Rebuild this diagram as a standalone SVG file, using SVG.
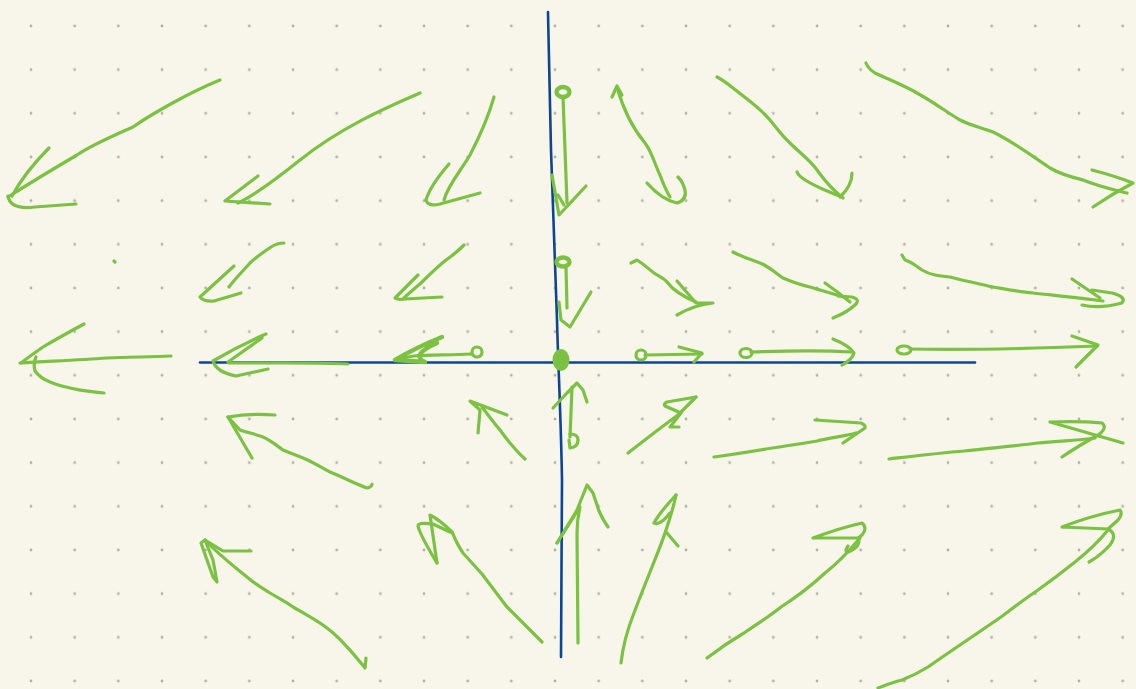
<svg xmlns="http://www.w3.org/2000/svg" width="1136" height="689" viewBox="0 0 1136 689">
<style>
.g{fill:none;stroke:#7cc242;stroke-width:3.2;stroke-linecap:round;stroke-linejoin:round}
.gt{fill:none;stroke:#7cc242;stroke-width:4.4;stroke-linecap:round;stroke-linejoin:round}
.ax{fill:none;stroke:#0c4595;stroke-width:2.6;stroke-linecap:round;stroke-linejoin:round}
</style>
<defs>
<pattern id="dots" patternUnits="userSpaceOnUse" x="9.17" y="4.17" width="43.667" height="43.667">
<circle cx="21.83" cy="21.83" r="1.4" fill="#b3b0a8"/>
</pattern>
</defs>
<rect width="1136" height="689" fill="#f8f6ea"/>
<rect width="1136" height="689" fill="url(#dots)"/>
<g id="axes">
<path class="ax" d="M548,12 C549,60 550,110 551,150 C553,200 555,250 557,320 C558,360 561,420 562,480 C562,560 561,610 561,657"/>
<path class="ax" d="M200,362.5 L975,362.5"/>
</g>
<g id="arrows">
<!-- row 1 -->
<path class="g" d="M220,80 C190,92 150,115 133,127 C110,137 90,146 77,155 C60,165 30,183 8,197"/>
<path class="g" d="M49,148 Q25,172 12,196"/>
<path class="g" d="M8,196 Q10,210 35,207 L76,204"/>
<path class="g" d="M420,93 C385,108 340,128 300,160 C275,180 255,195 238,203"/>
<path class="g" d="M258,176 L225,201 L270,204"/>
<path class="g" d="M494,97 C488,118 482,132 470,155 C460,172 448,185 444,200"/>
<path class="g" d="M449,164 Q430,186 426,200 Q428,207 440,204 L480,193"/>
<ellipse class="gt" cx="563" cy="92" rx="6.5" ry="5"/>
<path class="g" d="M563,97 L567,203"/>
<path class="g" d="M552,175 L559,215 L586,186"/>
<path class="g" d="M558,195 L564,205"/>
<path class="g" d="M617,87 C622,105 630,125 645,143 C652,152 655,165 660,175 C664,186 667,192 670,197"/>
<path class="g" d="M612,97 L617,86 L622,95"/>
<path class="g" d="M647,183 Q662,200 677,203 Q687,200 685,190 Q683,182 678,177"/>
<path class="g" d="M717,77 C723,80 728,84 733,88 C748,100 760,108 770,120 C778,130 784,138 790,143 C800,153 812,162 817,170 C823,178 828,186 843,198"/>
<path class="g" d="M797,172 Q800,181 842,197 M852,173 Q852,186 840,197"/>
<path class="g" d="M866,63 C868,68 870,70 875,73 C890,80 905,86 917,93 C935,103 948,113 960,120 C972,126 983,128 993,132 C1012,141 1032,156 1050,168 C1062,175 1075,178 1083,180 C1100,187 1115,190 1127,193"/>
<path class="g" d="M1092,170 Q1115,176 1133,183 Q1112,194 1093,207"/>
<!-- row 2 -->
<path class="g" d="M284,243 C278,243 274,245 271,247 C262,253 255,258 250,263 C242,272 234,280 229,287"/>
<path class="g" d="M234,266 L200,297 Q204,302 214,301 L241,293"/>
<path class="g" d="M464,245 C456,253 452,256 446,260 C436,268 428,276 421,283 C414,289 408,294 404,298"/>
<path class="g" d="M418,275 L395,298 Q398,300 405,299 L442,297"/>
<path class="g" d="M114,261 L115,262"/>
<ellipse class="gt" cx="563" cy="262" rx="6.5" ry="4.5"/>
<path class="g" d="M566,267 L567,308"/>
<path class="g" d="M559,302 L561,320 L570,327 L591,292"/>
<path class="g" d="M631,263 L637,260 C645,265 650,270 654,273 C660,277 664,278 667,282 C672,289 682,296 696,302"/>
<path class="g" d="M677,281 L696,303 L713,303 Q694,305 677,315"/>
<path class="g" d="M733,252 C742,257 750,259 760,263 C770,267 775,273 783,278 C795,283 805,286 810,287 C822,291 835,294 847,298"/>
<path class="g" d="M825,283 Q838,292 850,302 M838,296 L852,297 Q860,299 856,304 Q848,312 833,318"/>
<path class="g" d="M902,255 L905,260 C912,262 916,266 922,270 C930,275 940,276 950,277 C965,281 980,284 993,287 C1010,290 1020,292 1033,293 C1060,296 1080,298 1103,301"/>
<path class="g" d="M1072,279 L1100,298 M1082,305 Q1100,309 1122,303 Q1127,297 1112,293 L1092,290"/>
<!-- row 3 (axis) -->
<path class="g" d="M171,356 C150,357 130,357 107,358 C80,360 55,361 20,363"/>
<path class="g" d="M84,324 Q58,338 43,347 Q30,356 21,363"/>
<path class="g" d="M36,357 Q33,364 35,371 Q40,378 50,382 Q70,390 104,393"/>
<path class="g" d="M348,364 C330,363 300,363 286,363 C265,363 245,363 229,363"/>
<path class="g" d="M266,334 Q240,345 213,361 Q216,372 236,376 L268,369 M262,338 L228,362"/>
<ellipse class="g" cx="477" cy="352" rx="5" ry="5"/>
<path class="g" d="M471,354 C450,355 430,355 414,356 C406,357 400,359 395,360"/>
<path class="gt" d="M442,337 Q415,348 395,360 L425,362 Q410,355 437,343"/>
<ellipse cx="561" cy="360" rx="8.5" ry="11" fill="#7cc242"/>
<ellipse class="g" cx="641" cy="355" rx="5" ry="5"/>
<path class="g" d="M645,355 L702,354"/>
<path class="g" d="M679,347 L702,353 L694,362"/>
<ellipse class="g" cx="746" cy="353" rx="6" ry="4.5"/>
<path class="g" d="M751,352 C780,351 820,350 852,352"/>
<path class="g" d="M833,339 Q850,346 854,353 Q852,360 842,365"/>
<ellipse class="g" cx="904" cy="350" rx="7" ry="4"/>
<path class="g" d="M910,349 C960,350 1020,349 1097,346"/>
<path class="g" d="M1072,336 L1098,345 L1076,367"/>
<!-- row 4 -->
<path class="g" d="M275,415 Q250,413 228,417 L252,458"/>
<path class="g" d="M228,417 L240,430 C248,433 256,434 263,437 C272,441 277,446 283,450 C290,453 296,455 303,458 C315,463 322,468 330,472 C345,478 355,484 367,488 Q372,487 372,484"/>
<path class="g" d="M478,433 L480,410 L470,401 L507,415"/>
<path class="g" d="M482,407 C488,415 494,423 500,430 C508,441 516,451 525,459"/>
<path class="g" d="M553,408 L567,393 L577,383 L583,390 L587,402"/>
<path class="g" d="M572,387 L570,437"/>
<path class="g" d="M570,434 Q578,434 578,440 Q578,447 570,448 L569,440"/>
<path class="g" d="M628,453 C645,440 660,428 678,415 L696,397"/>
<path class="g" d="M696,397 L667,402 Q663,404 665,406 L681,413 L670,427 L679,427"/>
<path class="g" d="M714,457 C735,454 750,452 766,449 C785,446 800,444 817,441 C830,438 845,436 856,433"/>
<path class="g" d="M815,420 L861,423 Q866,425 865,428 L843,443"/>
<path class="g" d="M889,459 C915,456 940,453 964,451 C990,448 1015,446 1038,443 C1060,441 1080,440 1095,438"/>
<path class="g" d="M1050,422 L1123,443 M1050,422 Q1080,421 1102,423 Q1108,428 1098,435 Q1075,448 1062,457"/>
<!-- row 5 -->
<path class="g" d="M251,551 L223,551 L205,540 L201,543 L213,577 L217,582 L213,560 L205,540"/>
<path class="g" d="M205,540 C220,556 235,567 247,577 C255,584 262,588 270,593 C278,598 286,602 293,607 C305,614 318,621 327,628 C335,634 341,640 347,647 C353,653 360,662 365,668 L366,658"/>
<path class="g" d="M437,563 Q420,535 418,526 Q418,522 433,524 L450,532"/>
<path class="g" d="M437,563 L430,515 Q440,520 452,532 Q458,546 463,553 L482,574 L507,607 L542,642"/>
<path class="g" d="M557,543 L577,510 L587,485 L593,493 L599,511 Q603,520 608,527"/>
<path class="g" d="M557,543 L580,507 Q577,520 577,533 L578,643"/>
<path class="g" d="M621,663 C623,645 628,628 634,613 C640,597 646,582 652,567 C658,552 663,540 667,527 C670,518 674,505 676,495"/>
<path class="g" d="M676,495 Q660,512 654,523 Q660,526 670,513 M667,533 L678,546"/>
<path class="g" d="M707,658 C720,648 732,640 744,633 C757,624 770,616 781,607 C795,598 810,587 825,573 C838,563 850,550 860,538"/>
<path class="g" d="M813,538 Q840,528 862,523 Q868,528 862,535 L858,538 L813,538 M858,538 Q862,546 848,552 Q844,552 848,546"/>
<path class="g" d="M878,688 C886,685 893,682 902,680 C912,676 920,672 928,667 C952,650 978,633 1001,617 C1013,608 1026,598 1038,590 C1052,580 1065,570 1075,562 C1090,550 1100,540 1108,530"/>
<path class="g" d="M1062,527 Q1090,516 1120,510 Q1123,514 1118,520 L1108,529 L1062,527 M1108,529 Q1118,534 1110,545 Q1100,556 1089,562"/>
</g>
</svg>
